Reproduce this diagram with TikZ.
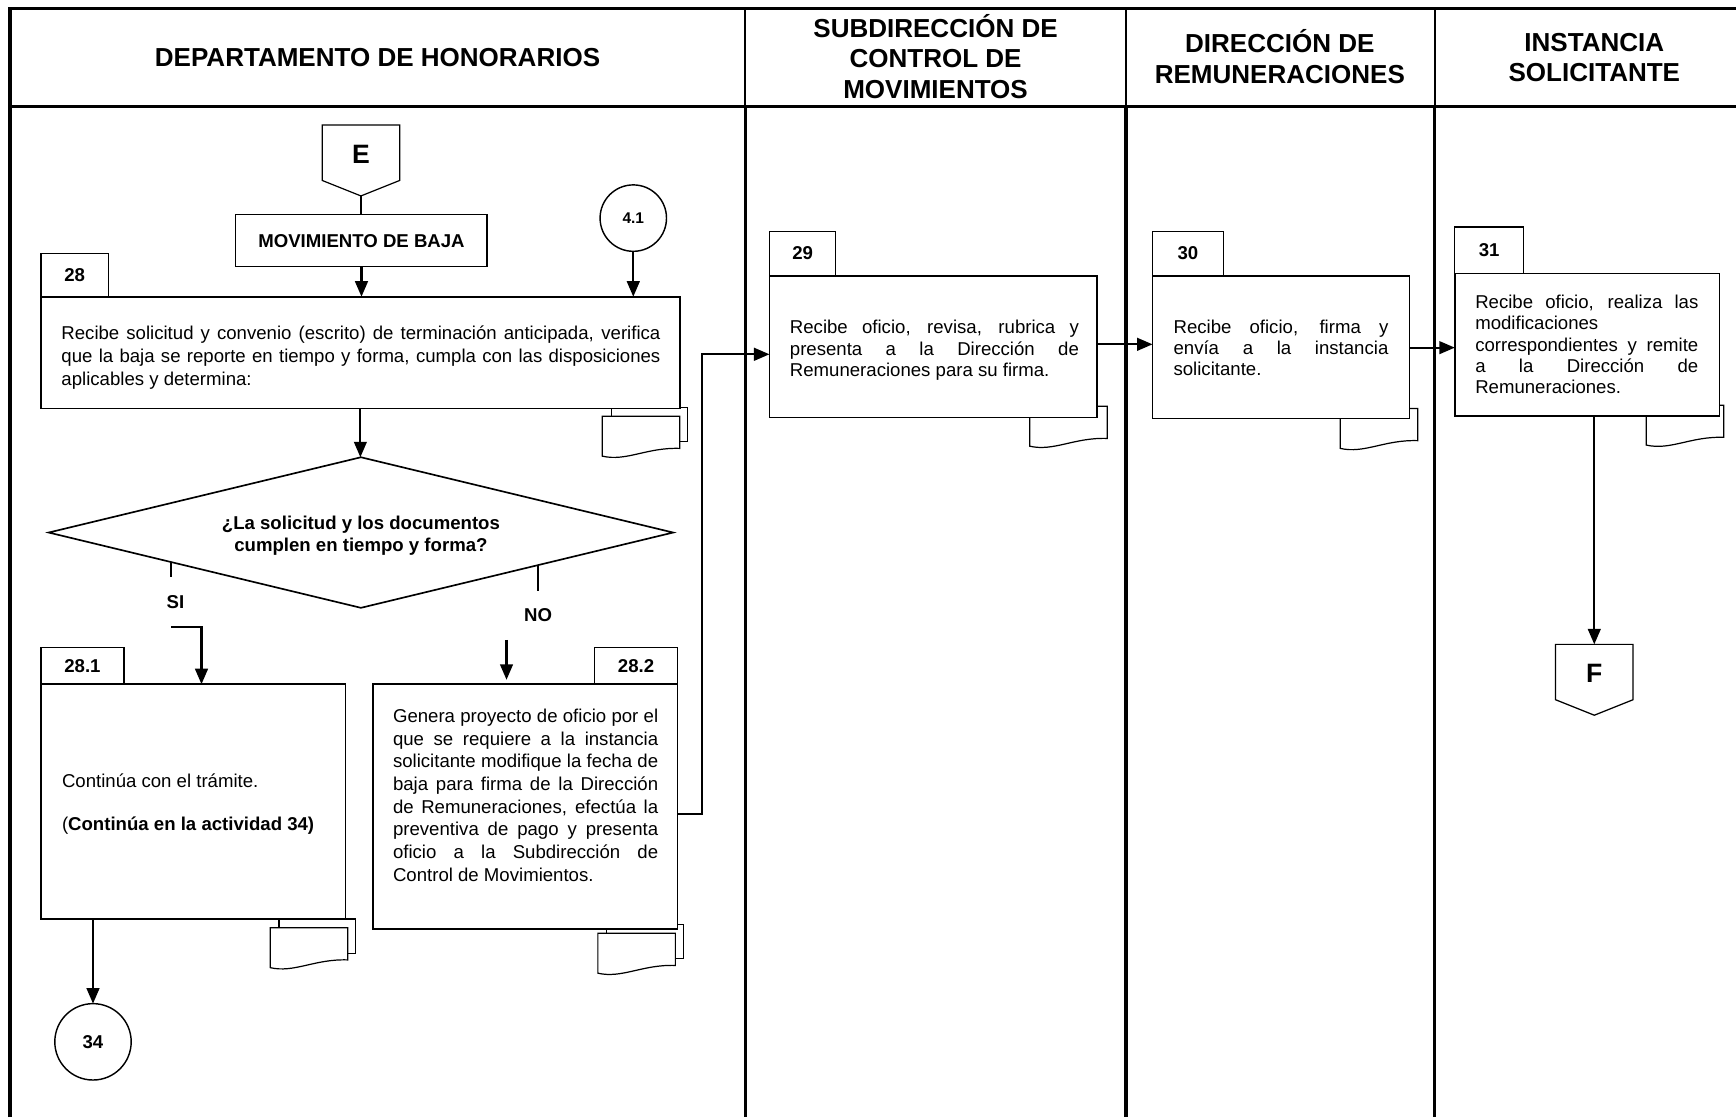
\documentclass[tikz,border=0pt]{standalone}
\usepackage{fontspec}
\setmainfont{Liberation Sans}
\usetikzlibrary{arrows.meta,shapes.geometric,calc}
\newcommand\lnstrut{\rule{0pt}{13pt}}
\newcommand\hdrsize{\fontsize{23.5}{27.8}\selectfont}
\newcommand\bodysize{\fontsize{16.8}{20.5}\selectfont}
\newcommand\tightsize{\fontsize{16.8}{19.3}\selectfont}
\newcommand\bigsize{\fontsize{24}{28}\selectfont}
\newcommand\smallsize{\fontsize{14}{16}\selectfont}
\pretolerance=10000 \tolerance=10000 \hbadness=10000

\begin{document}
\begin{tikzpicture}[x=1pt, y=-1pt,
  every node/.style={inner sep=0pt, outer sep=0pt},
  frameline/.style={line width=2.8pt},
  hdrline/.style={line width=1.6pt},
  hdrtext/.style={font=\hdrsize\bfseries, align=center},
  procbox/.style={draw, line width=1.5pt, fill=white, anchor=north west},
  tabbox/.style={draw, line width=1pt, fill=white, anchor=north west, font=\bodysize\bfseries},
  bodytext/.style={anchor=north west, align=justify, font=\bodysize},
  tighttext/.style={anchor=north west, align=justify, font=\tightsize},
  labeltext/.style={font=\bodysize\bfseries},
  flow/.style={line width=1.9pt, -{Triangle[length=14pt,width=11.5pt]}},
  plainline/.style={line width=1.8pt},
  connector/.style={draw, circle, line width=1.3pt, fill=white, font=\bodysize\bfseries},
  offpage/.style={line width=1.1pt, fill=white},
  decision/.style={draw, diamond, aspect=4.15, line width=1.5pt, fill=white},
  docline/.style={line width=1.1pt, fill=white},
  pics/doc/.style={code={
    \draw[docline] (0,0) -- (70,0) -- (70,29) .. controls (40,28) and (22,41) .. (0,36) -- cycle;}},
  pics/docs/.style={code={
    \draw[docline] (8,-8) rectangle (77,23);
    \draw[docline] (0,0) -- (70,0) -- (70,29) .. controls (40,28) and (22,41) .. (0,36) -- cycle;}},
]
\useasboundingbox (0,0) rectangle (1568,1009);

% swimlane frame
\draw[frameline] (9,1009) -- (9,7.5) -- (1568,7.5);
\draw[frameline] (9,96.5) -- (1568,96.5);
\foreach \lx in {673,1017,1296} {
  \draw[hdrline] (\lx,7.5) -- (\lx,96.5);
  \draw[frameline] (\lx,96.5) -- (\lx,1009);
}

% lane titles
\node[hdrtext] (h1) at (341,52) {DEPARTAMENTO DE HONORARIOS};
\node[hdrtext] (h2) at (845,51) {SUBDIRECCIÓN DE\\CONTROL DE\\MOVIMIENTOS};
\node[hdrtext] (h3) at (1156,51) {DIRECCIÓN DE\\REMUNERACIONES};
\node[hdrtext] (h4) at (1440,52) {INSTANCIA\\SOLICITANTE};

% documents under the activities
\pic at (544,376) {docs};
\pic at (244,838) {docs};
\pic at (540,843) {docs};
\pic at (930,367) {doc};
\pic at (1210.5,369) {doc};
\pic at (1487,366) {doc};

% entry connector E
\draw[offpage] (291,113) -- (361,113) -- (361,163) -- (326,177) -- (291,163) -- cycle;
\node[font=\bigsize\bfseries] (E) at (326,139) {E};
\coordinate (Etip) at (326,177);

\node[draw, line width=1.2pt, fill=white, minimum width=227pt, minimum height=47pt,
      font=\bodysize\bfseries] (mov) at (326.5,217.5) {MOVIMIENTO DE BAJA};

\node[connector, minimum size=60pt, font=\smallsize\bfseries] (c41) at (572,197) {4.1};

% activity 28
\node[tabbox, minimum width=61pt, minimum height=39pt] (t28) at (37,229) {28};
\node[procbox, minimum width=577pt, minimum height=101pt] (b28) at (37,268) {};
\node[bodytext, text width=541pt] (x28) at (55.5,294) {\lnstrut Recibe solicitud y convenio (escrito) de terminación anticipada, verifica\linebreak que la baja se reporte en tiempo y forma, cumpla con las disposiciones\linebreak aplicables y determina:};

% decision
\node[decision, minimum width=564pt, minimum height=136pt] (dec) at (326,481) {};
\node[font=\bodysize\bfseries, align=center, anchor=north] (dectext) at (326,465) {\lnstrut ¿La solicitud y los documentos\\cumplen en tiempo y forma?};

% activity 28.1
\node[tabbox, minimum width=75pt, minimum height=33pt] (t281) at (37,585) {28.1};
\node[procbox, minimum width=275pt, minimum height=212pt] (b281) at (37,618) {};
\node[anchor=north west, align=left, font=\bodysize] (x281) at (56,698) {\lnstrut Continúa con el trámite.\\[18.5pt](\textbf{Continúa en la actividad 34)}};

% activity 28.2
\node[tabbox, minimum width=75pt, minimum height=33pt] (t282) at (537,585) {28.2};
\node[procbox, minimum width=275pt, minimum height=221pt] (b282) at (337,618) {};
\node[bodytext, text width=239.5pt] (x282) at (355,639.5) {\lnstrut Genera proyecto de oficio por el\linebreak que se requiere a la instancia\linebreak solicitante modifique la fecha de\linebreak baja para firma de la Dirección\linebreak de Remuneraciones, efectúa la\linebreak preventiva de pago y presenta\linebreak oficio a la Subdirección de\linebreak Control de Movimientos.};

\node[connector, minimum size=69pt] (c34) at (84,941) {34};

% activity 29
\node[tabbox, minimum width=60pt, minimum height=40pt] (t29) at (695,209) {29};
\node[procbox, minimum width=296pt, minimum height=128pt] (b29) at (695,249) {};
\node[tighttext, text width=261pt] (x29) at (713.5,288.5) {\lnstrut Recibe oficio, revisa, rubrica y\linebreak presenta a la Dirección de\linebreak Remuneraciones para su firma.};

% activity 30
\node[tabbox, minimum width=64pt, minimum height=40pt] (t30) at (1041,209) {30};
\node[procbox, minimum width=232pt, minimum height=129pt] (b30) at (1041,249) {};
\node[tighttext, text width=194pt] (x30) at (1060,288) {\lnstrut Recibe oficio, firma y\linebreak envía a la instancia\linebreak solicitante.};

% activity 31
\node[tabbox, minimum width=62pt, minimum height=42pt] (t31) at (1314,205) {31};
\node[procbox, minimum width=239pt, minimum height=129pt] (b31) at (1314,247) {};
\node[tighttext, text width=201.5pt] (x31) at (1332.5,265.5) {\lnstrut Recibe oficio, realiza las\linebreak modificaciones\\correspondientes y remite\linebreak a la Dirección de\linebreak Remuneraciones.};

% exit connector F
\draw[offpage] (1405,582) -- (1475,582) -- (1475,632) -- (1440,646) -- (1405,632) -- cycle;
\node[font=\bigsize\bfseries] (F) at (1440,608) {F};
\coordinate (Ftop) at (1440,582);

% flow lines
\draw[plainline] (Etip) -- (Etip |- mov.north);
\draw[flow] (mov.south) -- (mov.south |- b28.north);
\draw[flow] (c41.south) -- (c41.south |- b28.north);
\draw[flow] (b28.south) -- (b28.south |- dec.north);

\coordinate (siTop) at ($(dec.west)!0.392!(dec.south)$);
\coordinate (noTop) at ($(dec.east)!0.433!(dec.south)$);
\draw[plainline] (siTop) -- ++(0,13.5);
\draw[plainline] (noTop) -- ++(0,23.5);
\node[labeltext] (si) at (158.5,544) {SI};
\node[labeltext] (no) at (486,556) {NO};

\coordinate (siStart) at (154.5,566);
\draw[flow] (siStart) -| ([xshift=145pt]b281.north west);
\coordinate (noStart) at (457.5,578);
\coordinate (noEnd) at (457.5,614);
\draw[flow] (noStart) -- (noEnd);

\draw[flow] (c34.north |- b281.south) -- (c34.north);

\draw[flow] ([yshift=-6.5pt]b282.east) -- ++(22,0) |- ([yshift=-7pt]b29.west);
\coordinate (a29) at ([yshift=2pt]b29.east);
\draw[flow] (a29) -- (a29 -| b30.west);
\coordinate (a30) at ([yshift=-0.5pt]b30.east);
\draw[flow] (a30) -- (a30 -| b31.west);
\draw[flow] (Ftop |- b31.south) -- (Ftop);
\end{tikzpicture}
\end{document}
